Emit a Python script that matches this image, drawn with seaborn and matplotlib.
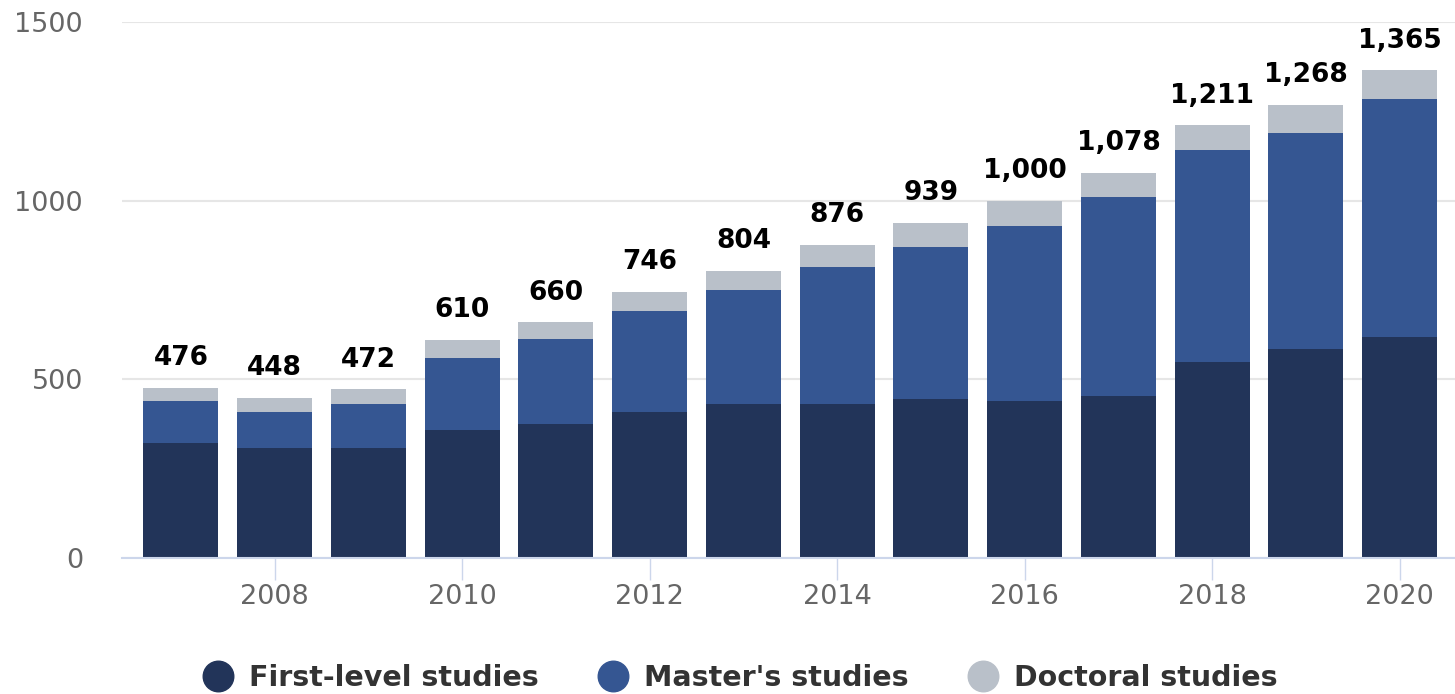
import matplotlib
matplotlib.use("Agg")
import matplotlib.pyplot as plt
from matplotlib.lines import Line2D
import seaborn as sns
import pandas as pd
import numpy as np

years = [2007, 2008, 2009, 2010, 2011, 2012, 2013, 2014, 2015, 2016, 2017, 2018, 2019, 2020]
first_level = [323, 308, 308, 359, 374, 410, 432, 432, 446, 439, 453, 549, 584, 620]
masters = [116, 102, 124, 202, 238, 282, 319, 383, 426, 491, 557, 592, 607, 665]
doctoral = [37, 38, 40, 49, 48, 54, 53, 61, 67, 70, 68, 70, 77, 80]
totals = [476, 448, 472, 610, 660, 746, 804, 876, 939, 1000, 1078, 1211, 1268, 1365]
series_names = ["First-level studies", "Master's studies", "Doctoral studies"]
colors = ["#223459", "#355692", "#b9c0c9"]

df = pd.DataFrame({"year": [str(y) for y in years],
                   "first": first_level, "masters": masters, "doctoral": doctoral})
df["lvl2"] = df["first"] + df["masters"]
df["lvl3"] = df["lvl2"] + df["doctoral"]

sns.set_theme(style="white")
plt.rcParams['font.family'] = ['DejaVu Sans']

fig = plt.figure(figsize=(14.55, 6.94), dpi=100)
ax = fig.add_axes([0.0838, 0.196, 0.9162, 0.772])

order = df["year"].tolist()
sns.barplot(data=df, x="year", y="lvl3", order=order, color=colors[2], width=0.8,
            saturation=1, ax=ax, zorder=2, edgecolor="none")
sns.barplot(data=df, x="year", y="lvl2", order=order, color=colors[1], width=0.8,
            saturation=1, ax=ax, zorder=3, edgecolor="none")
sns.barplot(data=df, x="year", y="first", order=order, color=colors[0], width=0.8,
            saturation=1, ax=ax, zorder=4, edgecolor="none")

ax.bar_label(ax.containers[0], labels=[f"{t:,}" for t in totals], padding=12,
             fontsize=19, fontweight="bold", color="black")

ax.set_ylim(0, 1500)
ax.set_xlim(-0.63, 13.59)
ax.set_yticks([0, 500, 1000, 1500])
ax.set_yticklabels(["0", "500", "1000", "1500"])
tick_pos = [i for i, y in enumerate(years) if y % 2 == 0]
ax.set_xticks(tick_pos)
ax.set_xticklabels([str(years[i]) for i in tick_pos])
ax.set_xlabel("")
ax.set_ylabel("")

ax.yaxis.grid(True, color="#e6e6e6", linewidth=1.5, zorder=0)
ax.set_axisbelow(True)
for s in ["top", "right", "left"]:
    ax.spines[s].set_visible(False)
ax.spines["bottom"].set_color("#ccd6eb")
ax.spines["bottom"].set_linewidth(1.5)
ax.spines["bottom"].set_zorder(5)

ax.tick_params(axis="x", length=16, width=1, color="#ccd6eb", labelsize=19.5,
               labelcolor="#666666", pad=3, bottom=True, direction="out")
ax.tick_params(axis="y", length=0, labelsize=19.5, labelcolor="#666666", pad=28)

handles = [Line2D([0], [0], marker="o", linestyle="none", markersize=22,
                  markerfacecolor=c, markeredgecolor=c) for c in colors]
leg = fig.legend(handles, series_names, loc="center", bbox_to_anchor=(0.507, 0.023),
                 ncol=3, frameon=False, handlelength=1.4, handletextpad=0.4,
                 columnspacing=1.9, prop={"size": 20.5, "weight": "bold"})
for t in leg.get_texts():
    t.set_color("#333333")

fig.savefig("out.png", dpi=100)
